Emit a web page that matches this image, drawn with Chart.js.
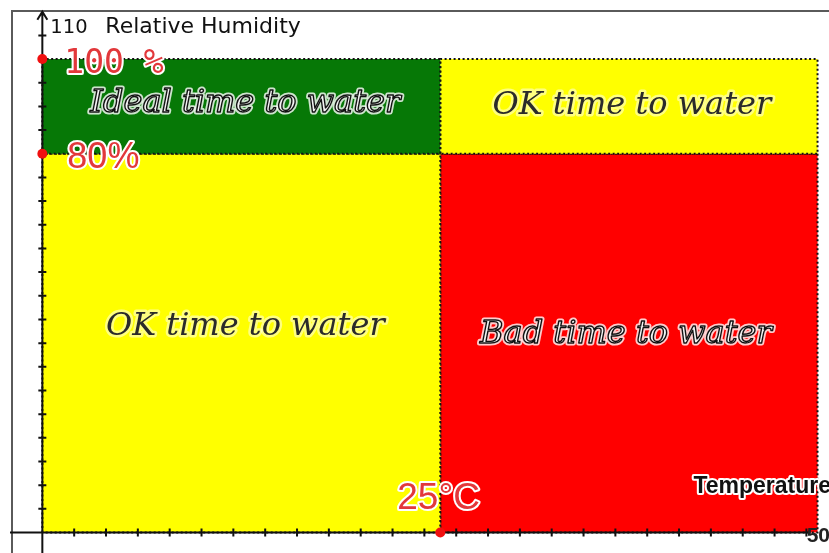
<!DOCTYPE html>
<html>
<head>
<meta charset="utf-8">
<script src="https://cdn.jsdelivr.net/npm/chart.js@4"></script>
<style>
  html, body { margin: 0; padding: 0; background: #fff; }
  canvas { display: block; }
</style>
</head>
<body>
<canvas id="myChart" width="829" height="553"></canvas>
<script>
// zones (temperature in °C, relative humidity in %)
const zoneNames = ["Ideal time to water", "OK time to water", "OK time to water", "Bad time to water"];
const zoneTemp = [[0, 25], [25, 48.7], [0, 25], [25, 48.7]];
const zoneHumidity = [[80, 100], [80, 100], [0, 80], [0, 80]];

// red marker dots on the axes
const markerTemp = [0, 0, 25];
const markerHumidity = [100, 80, 0];
const markerLabels = ["100 %", "80%", "25°C"];

// axis ticks
const xTicks = [2, 4, 6, 8, 10, 12, 14, 16, 18, 20, 22, 24, 26, 28, 30, 32, 34, 36, 38, 40, 42, 44, 46, 48];
const yTicks = [5, 10, 15, 20, 25, 30, 35, 40, 45, 50, 55, 60, 65, 70, 75, 80, 85, 90, 95, 100, 105];
const xEndLabel = "50";
const yEndLabel = "110";
const yTop = 110;
const xTitle = "Temperature";
const yTitle = "Relative Humidity";

// styles
const zoneColors = ["#067806", "#ffff00", "#ffff00", "#ff0000"];
const zoneText = [
  { dx: 4, dy: -3, fill: "#f4f4f4", outline: "#111", halo: "rgba(255,255,255,0.8)" },
  { dx: 3, dy: -1, fill: "#2a2a2a", outline: null, halo: "rgba(255,255,255,0.5)" },
  { dx: 4, dy: -16, fill: "#2a2a2a", outline: null, halo: "rgba(255,255,255,0.5)" },
  { dx: -3, dy: -8, fill: "#f4f4f4", outline: "#111", halo: "rgba(255,255,255,0.8)" },
];
const markerText = [
  { dx: 22, dy: 14, font: "33px 'DejaVu Sans Mono'" },
  { dx: 25, dy: 14, font: "36px 'Liberation Sans'" },
  { dx: -43, dy: -24, font: "37px 'Liberation Sans'" },
];

function zoneData(i) {
  const [x0, x1] = zoneTemp[i];
  const [y0, y1] = zoneHumidity[i];
  return [
    { x: x0, y: y0 }, { x: x0, y: y1 }, { x: x1, y: y1 }, { x: x1, y: y0 }, { x: x0, y: y0 },
  ];
}

function drawText(ctx, s, x, y, o) {
  ctx.save();
  ctx.font = o.font;
  ctx.textAlign = o.align || "left";
  ctx.textBaseline = o.baseline || "alphabetic";
  ctx.lineJoin = "round";
  if (o.halo) {
    ctx.strokeStyle = o.halo;
    ctx.lineWidth = o.haloWidth || 4;
    ctx.strokeText(s, x, y);
  }
  ctx.fillStyle = o.fill;
  ctx.fillText(s, x, y);
  if (o.outline) {
    ctx.strokeStyle = o.outline;
    ctx.lineWidth = o.outlineWidth || 1.2;
    ctx.strokeText(s, x, y);
  }
  ctx.restore();
}

function drawAxes(chart) {
  const ctx = chart.ctx;
  const xs = chart.scales.x;
  const ys = chart.scales.y;
  const x0 = xs.getPixelForValue(0);
  const y0 = ys.getPixelForValue(0);
  const yTip = ys.getPixelForValue(yTop);
  const xEnd = xs.getPixelForValue(xTicks[xTicks.length - 1]) + 4;
  ctx.save();
  ctx.strokeStyle = "#111";
  ctx.lineWidth = 2;
  ctx.beginPath();
  ctx.moveTo(x0, chart.height);
  ctx.lineTo(x0, yTip);
  ctx.moveTo(10, y0);
  ctx.lineTo(xEnd, y0);
  // arrow head
  ctx.moveTo(x0 - 5, yTip + 8);
  ctx.lineTo(x0, yTip);
  ctx.lineTo(x0 + 5, yTip + 8);
  ctx.stroke();
  ctx.beginPath();
  yTicks.forEach((v) => {
    const p = ys.getPixelForValue(v);
    ctx.moveTo(x0 - 4, p);
    ctx.lineTo(x0 + 4, p);
  });
  xTicks.forEach((v) => {
    const p = xs.getPixelForValue(v);
    ctx.moveTo(p, y0 - 4);
    ctx.lineTo(p, y0 + 4);
  });
  ctx.stroke();
  ctx.restore();
}

const sketchPlugin = {
  id: "sketch",
  beforeDatasetsDraw(chart) {
    // outer frame of the original picture
    const ctx = chart.ctx;
    ctx.save();
    ctx.strokeStyle = "#5a5a5a";
    ctx.lineWidth = 2;
    ctx.beginPath();
    ctx.moveTo(12, chart.height);
    ctx.lineTo(12, 11);
    ctx.lineTo(chart.width, 11);
    ctx.stroke();
    ctx.restore();
  },
  beforeDatasetDraw(chart, args) {
    if (args.index === 0) drawAxes(chart);
  },
  afterDatasetsDraw(chart) {
    const ctx = chart.ctx;
    const xs = chart.scales.x;
    const ys = chart.scales.y;

    zoneNames.forEach((name, i) => {
      const cx = xs.getPixelForValue((zoneTemp[i][0] + zoneTemp[i][1]) / 2);
      const cy = ys.getPixelForValue((zoneHumidity[i][0] + zoneHumidity[i][1]) / 2);
      const st = zoneText[i];
      drawText(ctx, name, cx + st.dx, cy + st.dy, {
        font: "italic 32px 'DejaVu Serif'",
        align: "center",
        baseline: "middle",
        fill: st.fill,
        outline: st.outline,
        outlineWidth: 1.4,
        halo: st.halo,
        haloWidth: 5,
      });
    });

    markerLabels.forEach((s, i) => {
      const st = markerText[i];
      drawText(ctx, s, xs.getPixelForValue(markerTemp[i]) + st.dx, ys.getPixelForValue(markerHumidity[i]) + st.dy, {
        font: st.font,
        fill: "#e2383b",
        halo: "#fff",
        haloWidth: 4,
      });
    });

    const x0 = xs.getPixelForValue(0);
    const yTip = ys.getPixelForValue(yTop);
    drawText(ctx, yEndLabel, x0 + 8, yTip + 21, { font: "19.5px 'DejaVu Sans'", fill: "#111" });
    drawText(ctx, yTitle, x0 + 63, yTip + 21, { font: "22px 'DejaVu Sans'", fill: "#111" });

    const y0 = ys.getPixelForValue(0);
    drawText(ctx, xTitle, chart.width + 2, y0 - 40, {
      font: "bold 23px 'Liberation Sans'",
      align: "right",
      fill: "#111",
      halo: "#fff",
      haloWidth: 4,
    });
    drawText(ctx, xEndLabel, chart.width + 1, y0 + 9, {
      font: "bold 21px 'Liberation Sans'",
      align: "right",
      fill: "#222",
    });
  },
};

const datasets = [
  {
    label: "markers",
    data: markerTemp.map((t, i) => ({ x: t, y: markerHumidity[i] })),
    showLine: false,
    pointRadius: 5,
    pointBackgroundColor: "#f01010",
    pointBorderWidth: 0,
  },
];
zoneNames.forEach((name, i) => {
  datasets.push({
    label: name,
    data: zoneData(i),
    fill: "shape",
    backgroundColor: zoneColors[i],
    borderColor: "#111",
    borderWidth: 2,
    borderDash: [2, 2.5],
    pointRadius: 0,
    tension: 0,
  });
});

const ctx = document.getElementById("myChart").getContext("2d");
const myChart = new Chart(ctx, {
  type: "line",
  data: { datasets: datasets },
  options: {
    responsive: false,
    animation: false,
    layout: { padding: 0, autoPadding: false },
    scales: {
      x: { type: "linear", display: false, min: -2.66, max: 49.42 },
      y: { type: "linear", display: false, min: -4.33, max: 112.48 },
    },
    plugins: {
      legend: { display: false },
      tooltip: { enabled: false },
    },
  },
  plugins: [sketchPlugin],
});
</script>
</body>
</html>
